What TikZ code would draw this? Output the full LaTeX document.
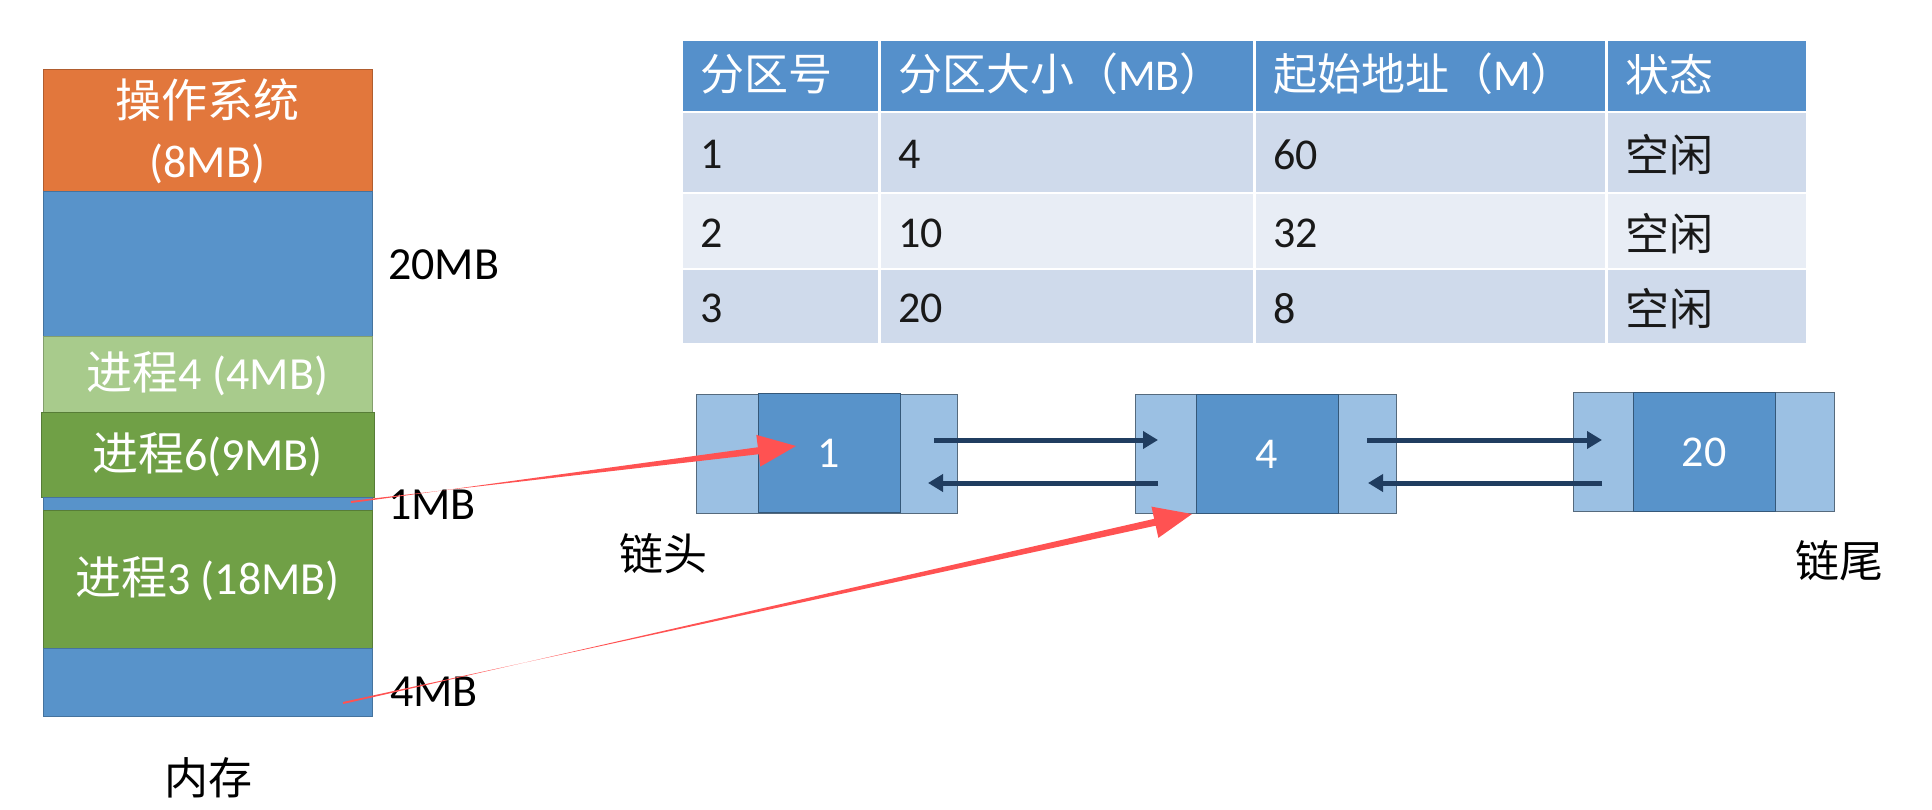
\documentclass[tikz,border=0pt]{standalone}
\usepackage{fontspec}
\setmainfont{Carlito}
\newfontfamily\cjk{Noto Sans CJK SC}
\usetikzlibrary{calc,arrows.meta}
\definecolor{osorange}{HTML}{E2773C}
\definecolor{freeblue}{HTML}{5893CA}
\definecolor{lgreen}{HTML}{A8CB8C}
\definecolor{dgreen}{HTML}{70A046}
\definecolor{hdrblue}{HTML}{5590CB}
\definecolor{rowA}{HTML}{CFDAEB}
\definecolor{rowB}{HTML}{E8EDF5}
\definecolor{pale}{HTML}{9BC0E3}
\definecolor{navy}{HTML}{203D60}
\definecolor{redarrow}{HTML}{FF5252}
\newcommand\taperedarrow[2]{%
  \coordinate (hb) at ($(#2)!38pt!(#1)$);
  \fill[redarrow] ($(#1)!1pt!90:(#2)$) -- ($(hb)!3.5pt!-90:(#2)$) -- ($(hb)!16pt!-90:(#2)$)
    -- (#2) -- ($(hb)!16pt!90:(#2)$) -- ($(hb)!3.5pt!90:(#2)$) -- ($(#1)!1pt!-90:(#2)$) -- cycle;}
\begin{document}
\begin{tikzpicture}[x=1pt,y=-1pt,
  mem/.style={draw=#1!78!black, line width=1pt, fill=#1, minimum width=329pt, inner sep=0pt,
    text=white, font=\fontsize{46}{60}\selectfont, align=center},
  lbl/.style={inner sep=0pt, text=black, font=\fontsize{46}{55}\selectfont},
  cell/.style={draw=white, line width=2.5pt, anchor=north west, inner sep=0pt},
  hdrtxt/.style={anchor=west, inner sep=0pt, text=white, font=\fontsize{44}{50}\selectfont},
  bodytxt/.style={anchor=west, inner sep=0pt, text=black!90, font=\fontsize{44}{50}\selectfont},
  llout/.style={draw=pale!55!black, line width=1pt, fill=pale, minimum width=261pt, minimum height=119pt, inner sep=0pt},
  llin/.style={draw=freeblue!60!black, line width=0.8pt, fill=freeblue, minimum width=142pt, minimum height=119pt, inner sep=0pt,
    text=white, font=\fontsize{44}{50}\selectfont},
  navyarrow/.style={draw=navy, line width=5pt, -{Triangle[length=15pt,width=17pt]}}
]
\fill[white] (0,0) rectangle (1932,810);
\useasboundingbox (0,0) rectangle (1932,810);

% memory column
\node[mem=osorange, minimum height=122pt] (os) at (207.5,131) {{\cjk 操作系统}\\(8MB)};
\node[mem=freeblue, minimum height=144pt] (free1) at (207.5,264) {};
\node[mem=lgreen, minimum height=76pt] (p4) at (207.5,374) {{\cjk 进程}4 (4MB)};
\node[mem=dgreen, minimum height=85pt, minimum width=333pt] (p6) at (207.5,454.5) {{\cjk 进程}6(9MB)};
\node[mem=freeblue, minimum height=13pt] (free2) at (207.5,503.5) {};
\node[mem=dgreen, minimum height=138pt] (p3) at (207.5,579) {{\cjk 进程}3 (18MB)};
\node[mem=freeblue, minimum height=68pt] (free3) at (207.5,682) {};

\node[lbl, anchor=west] (l20) at (388,265) {20MB};
\node[lbl, anchor=west] (l1) at (388,505) {1MB};
\node[lbl, anchor=west] (l4) at (390,692) {4MB};
\node[lbl, font=\cjk\fontsize{44}{50}\selectfont] (mem) at (208,778) {内存};

% table
\foreach \c/\xa/\w in {1/680/198, 2/878/375, 3/1253/352, 4/1605/201}{
  \node[cell, fill=hdrblue, minimum width=\w pt, minimum height=72pt] (h-\c) at (\xa,39) {};
  \node[cell, fill=rowA, minimum width=\w pt, minimum height=81pt] (r1-\c) at (\xa,111) {};
  \node[cell, fill=rowB, minimum width=\w pt, minimum height=76pt] (r2-\c) at (\xa,192) {};
  \node[cell, fill=rowA, minimum width=\w pt, minimum height=75pt] (r3-\c) at (\xa,268) {};
}
\node[hdrtxt] (th1) at ($(h-1.west)+(20,-2)$) {\cjk 分区号};
\node[hdrtxt] (th2) at ($(h-2.west)+(20,-2)$) {{\cjk 分区大小（}MB{\cjk ）}};
\node[hdrtxt] (th3) at ($(h-3.west)+(20,-2)$) {{\cjk 起始地址（}M{\cjk ）}};
\node[hdrtxt] (th4) at ($(h-4.west)+(20,-2)$) {\cjk 状态};
\foreach \r/\a/\b/\d in {1/4/60, 2/10/32, 3/20/8}{
  \node[bodytxt] (t\r-1) at ($(r\r-1.west)+(20,2)$) {\r};
  \node[bodytxt] (t\r-2) at ($(r\r-2.west)+(20,2)$) {\a};
  \node[bodytxt] (t\r-3) at ($(r\r-3.west)+(20,2)$) {\b};
  \node[bodytxt] (t\r-4) at ($(r\r-4.west)+(20,2)$) {\cjk 空闲};
}

% linked list
\node[llout] (n1) at (827,454) {};
\node[llin] (n1i) at (829,453) {1};
\node[llout] (n2) at (1266,454) {};
\node[llin] (n2i) at (1267,454) {4};
\node[llout] (n3) at (1704,452) {};
\node[llin] (n3i) at (1704,452) {20};

\coordinate (a1s) at (934,440); \coordinate (a1e) at (1158,440);
\coordinate (b1s) at (1158,483); \coordinate (b1e) at (928,483);
\coordinate (a2s) at (1367,440); \coordinate (a2e) at (1602,440);
\coordinate (b2s) at (1602,483); \coordinate (b2e) at (1368,483);
\draw[navyarrow] (a1s) -- (a1e);
\draw[navyarrow] (b1s) -- (b1e);
\draw[navyarrow] (a2s) -- (a2e);
\draw[navyarrow] (b2s) -- (b2e);

\node[lbl, font=\cjk\fontsize{44}{50}\selectfont] (head) at (663,554) {链头};
\node[lbl, font=\cjk\fontsize{44}{50}\selectfont] (tail) at (1839,561) {链尾};

% red arrows
\coordinate (r1s) at (351,502); \coordinate (r1t) at (796,446);
\coordinate (r2s) at (343,703); \coordinate (r2t) at (1192,514);
\taperedarrow{r1s}{r1t}
\taperedarrow{r2s}{r2t}
\end{tikzpicture}
\end{document}
